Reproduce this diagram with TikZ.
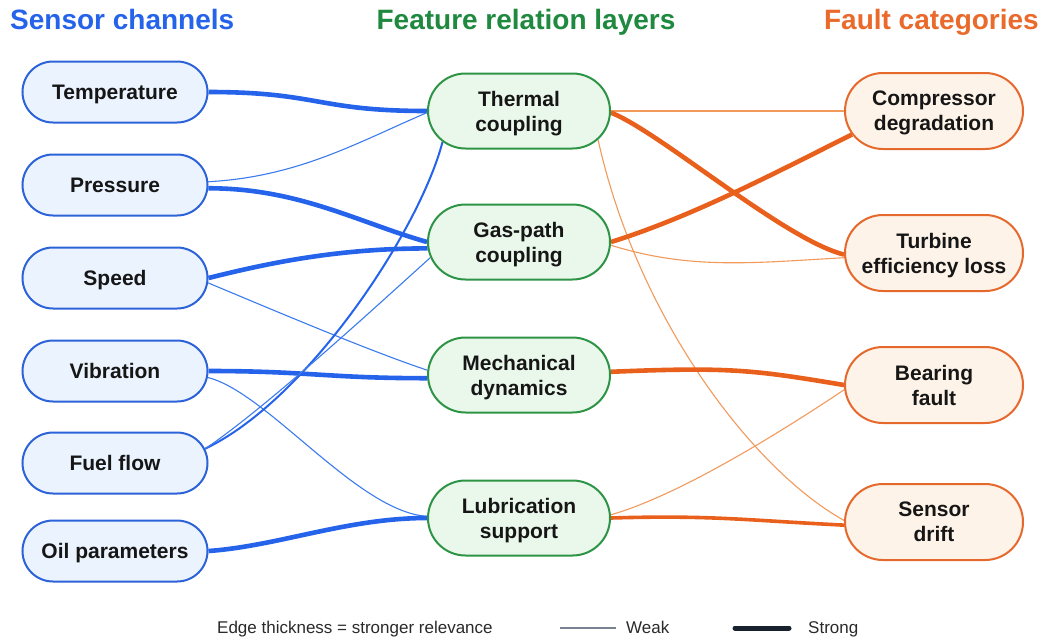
\documentclass[tikz,border=0pt]{standalone}
\usepackage{fontspec}
\setmainfont{Liberation Sans}
\usetikzlibrary{shapes.misc,backgrounds}

\definecolor{sensorblue}{HTML}{2563EB}
\definecolor{sensorborder}{HTML}{2D63D8}
\definecolor{sensorfill}{HTML}{EBF3FE}
\definecolor{sensorthin}{HTML}{3B7BEE}
\definecolor{layergreen}{HTML}{1F8A3F}
\definecolor{layerborder}{HTML}{2E9445}
\definecolor{layerfill}{HTML}{EAF8EC}
\definecolor{faultorange}{HTML}{EA6A2C}
\definecolor{faultborder}{HTML}{E5692D}
\definecolor{faultfill}{HTML}{FEF3E8}
\definecolor{faultline}{HTML}{E8601C}
\definecolor{faultthin}{HTML}{F29A5C}
\definecolor{labeltext}{HTML}{161616}
\definecolor{legendtext}{HTML}{2A2A2A}
\definecolor{weakgray}{HTML}{7A8290}
\definecolor{strongnavy}{HTML}{17222E}

\begin{document}
\begin{tikzpicture}[x=1pt,y=-1pt,
  pill/.style={rounded rectangle, line width=2pt, text=labeltext, align=center,
    font=\bfseries\fontsize{21}{25}\selectfont, inner sep=0pt, text depth=0pt},
  sensorbox/.style={pill, draw=sensorborder, fill=sensorfill,
    minimum width=185pt, minimum height=61pt},
  layerbox/.style={pill, draw=layerborder, fill=layerfill,
    minimum width=182pt, minimum height=75pt},
  faultbox/.style={pill, draw=faultborder, fill=faultfill,
    minimum width=178pt, minimum height=76pt},
  heading/.style={font=\bfseries\fontsize{28}{30}\selectfont, inner sep=0pt},
  keytext/.style={font=\fontsize{17}{19}\selectfont, text=legendtext, inner sep=0pt, anchor=base west},
  blueweak/.style={draw=sensorthin, line width=1.1pt},
  bluemid/.style={draw=sensorblue, line width=2pt},
  bluestrong/.style={draw=sensorblue, line width=4.6pt},
  orangeweak/.style={draw=faultthin, line width=1.1pt},
  orangemid/.style={draw=faultline, line width=3.6pt},
  orangestrong/.style={draw=faultline, line width=4.6pt},
]

% column headings
\node[heading, text=sensorblue, anchor=base west] (h1) at (10,29) {Sensor channels};
\node[heading, text=layergreen, anchor=base] (h2) at (526,29) {Feature relation layers};
\node[heading, text=faultorange, anchor=base east] (h3) at (1039,29) {Fault categories};

% sensor channels
\node[sensorbox] (temp)  at (115,92)  {Temperature};
\node[sensorbox] (press) at (115,185) {Pressure};
\node[sensorbox] (speed) at (115,278) {Speed};
\node[sensorbox] (vib)   at (115,371) {Vibration};
\node[sensorbox] (fuel)  at (115,463) {Fuel flow};
\node[sensorbox] (oil)   at (115,551) {Oil parameters};

% feature relation layers
\node[layerbox] (therm) at (519,111) {Thermal\\coupling};
\node[layerbox] (gas)   at (519,242) {Gas-path\\coupling};
\node[layerbox] (mech)  at (519,375) {Mechanical\\dynamics};
\node[layerbox] (lub)   at (519,518) {Lubrication\\support};

% fault categories
\node[faultbox] (comp)   at (934,111) {Compressor\\degradation};
\node[faultbox] (turb)   at (934,253) {Turbine\\efficiency loss};
\node[faultbox] (bear)   at (934,385) {Bearing\\fault};
\node[faultbox] (drift)  at (934,522) {Sensor\\drift};

% legend
\node[keytext] (keycap) at (217,633) {Edge thickness = stronger relevance};
\coordinate (wa) at (560,628);
\coordinate (wb) at (616,628);
\draw[draw=weakgray, line width=1.3pt] (wa) -- (wb);
\node[keytext] (weak) at (626,633) {Weak};
\coordinate (sa) at (735,628);
\coordinate (sb) at (789,628);
\draw[draw=strongnavy, line width=5pt, line cap=round] (sa) -- (sb);
\node[keytext] (strong) at (808,633) {Strong};

\begin{scope}[on background layer]
  \fill[white] (0,0) rectangle (1044,638);

  % sensor channels -> relation layers
  \draw[bluestrong] (temp.east)  .. controls +(110,0) and +(-110,0) .. (therm.west);
  \draw[blueweak]   (press.2)    .. controls +(90,-5) and +(-70,30) .. (therm.181);
  \draw[bluestrong] (press.-2)   .. controls +(90,0) and +(-70,-20) .. (gas.west);
  \draw[bluestrong] (speed.east) .. controls +(60,-15) and +(-90,0) .. (gas.184);
  \draw[blueweak]   (speed.-3)   .. controls +(60,25) and +(-60,-20) .. (mech.177);
  \draw[bluestrong] (vib.east)   .. controls +(100,0) and +(-100,0) .. (mech.182);
  \draw[blueweak]   (vib.-4)     .. controls +(60,15) and +(-70,-5) .. (lub.179);
  \draw[bluemid]    (fuel.9)     .. controls +(103,-49) and +(-23,88) .. (therm.202);
  \draw[blueweak]   (fuel.9)     .. controls +(60,-40) and +(-50,45) .. (gas.190);
  \draw[bluestrong] (oil.east)   .. controls +(70,-5) and +(-80,0) .. (lub.west);

  % relation layers -> fault categories
  \draw[orangeweak]   (therm.east) .. controls +(80,0) and +(-80,0) .. (comp.west);
  \draw[orangestrong] (therm.-1)   .. controls +(50,20) and +(-60,-15) .. (turb.181);
  \draw[orangeweak]   (therm.-20)  .. controls +(40,180) and +(-90,-50) .. (drift.179);
  \draw[orangestrong] (gas.east)   .. controls +(80,-25) and +(-80,40) .. (comp.196);
  \draw[orangeweak]   (gas.-2)     .. controls +(80,25) and +(-90,5) .. (turb.183);
  \draw[orangestrong] (mech.2)     .. controls +(120,-5) and +(-90,-15) .. (bear.west);
  \draw[orangeweak]   (lub.2)      .. controls +(70,-20) and +(-60,40) .. (bear.183);
  \draw[orangemid]    (lub.east)   .. controls +(100,-3) and +(-100,-5) .. (drift.182);
\end{scope}
\end{tikzpicture}
\end{document}
